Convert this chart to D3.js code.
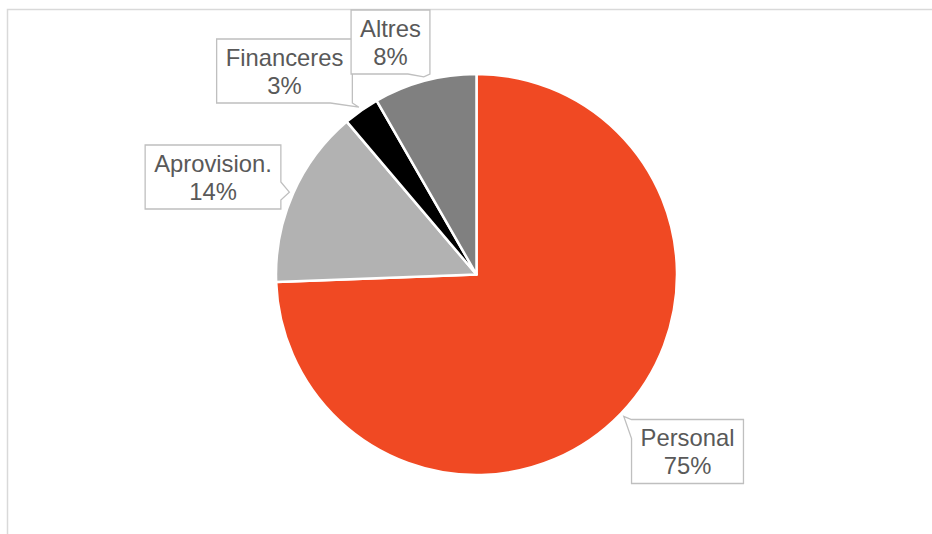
<!DOCTYPE html>
<html>
<head>
<meta charset="utf-8">
<script src="https://cdn.jsdelivr.net/npm/d3@7"></script>
<style>
    html, body { margin: 0; padding: 0; background: #fff; }
    svg { display: block; }
</style>
</head>
<body>
<div class="chart"></div>
<script>
(function () {
    'use strict';

    const categories = ['Personal', 'Aprovision.', 'Financeres', 'Altres'];
    const values = [74.4, 14.4, 2.9, 8.3];
    const percentLabels = ['75%', '14%', '3%', '8%'];

    const colors = ['#f04923', '#b2b2b2', '#000000', '#808080'];

    // callout box centre relative to the pie centre, and which box side the pointer leaves from
    const calloutPos = [
        { dx: 211, dy: 177, side: 'left' },
        { dx: -263.5, dy: -97.5, side: 'right' },
        { dx: -192, dy: -203.5, side: 'bottom' },
        { dx: -86, dy: -232.5, side: 'bottom' }
    ];

    const width = 932;
    const height = 534;
    const cx = 476.5;
    const cy = 274.5;
    const radius = 200.5;
    const fontSize = 23.8;

    const svg = d3.select('.chart').append('svg')
        .attr('width', width)
        .attr('height', height);

    // chart area frame
    svg.append('rect')
        .attr('x', 7.5).attr('y', 9.5)
        .attr('width', 1000).attr('height', 700)
        .attr('fill', 'none')
        .attr('stroke', '#d9d9d9')
        .attr('stroke-width', 1.5);

    const pie = d3.pie().sort(null).value(function (d) { return d; });
    const arcs = pie(values);
    const arc = d3.arc().innerRadius(0).outerRadius(radius);

    const pieGroup = svg.append('g').attr('transform', 'translate(' + cx + ',' + cy + ')');

    pieGroup.selectAll('path').data(arcs).enter().append('path')
        .attr('d', arc)
        .attr('fill', function (d, i) { return colors[i]; })
        .attr('stroke', '#fff')
        .attr('stroke-width', 2.5)
        .attr('stroke-linejoin', 'round');

    // measure text widths for the boxes
    const measure = svg.append('text').style('font-family', 'Liberation Sans, Arial, sans-serif')
        .style('font-size', fontSize + 'px');
    const textWidth = function (s) {
        measure.text(s);
        return measure.node().getComputedTextLength();
    };

    const callout = function (x0, y0, w, h, tip, side) {
        const x1 = x0 + w, y1 = y0 + h;
        const p = d3.path();
        p.moveTo(x0, y0);
        if (side === 'left') {
            // top-left corner straight to tip, back to the left edge lower down
            p.lineTo(x1, y0); p.lineTo(x1, y1); p.lineTo(x0, y1);
            p.lineTo(x0, y0 + 19); p.lineTo(tip[0], tip[1]); p.closePath();
        } else if (side === 'right') {
            p.lineTo(x1, y0);
            p.lineTo(x1, y0 + 37); p.lineTo(tip[0], tip[1]); p.lineTo(x1, y0 + 55);
            p.lineTo(x1, y1); p.lineTo(x0, y1); p.closePath();
        } else {
            p.lineTo(x1, y0); p.lineTo(x1, y1);
            p.lineTo(tip[0], tip[1]); p.lineTo(x1 - 22, y1);
            p.lineTo(x0, y1); p.closePath();
        }
        return p.toString();
    };

    const labelGroup = svg.append('g').attr('class', 'labels');

    arcs.forEach(function (d, i) {
        const mid = (d.startAngle + d.endAngle) / 2;
        const tipR = radius + 4;
        const tip = [cx + tipR * Math.sin(mid), cy - tipR * Math.cos(mid)];
        const w = Math.max(textWidth(categories[i]), textWidth(percentLabels[i])) + 18;
        const h = 64;
        const bx = cx + calloutPos[i].dx - w / 2;
        const by = cy + calloutPos[i].dy - h / 2;

        labelGroup.append('path')
            .attr('d', callout(bx, by, w, h, tip, calloutPos[i].side))
            .attr('fill', '#fff')
            .attr('stroke', '#bfbfbf')
            .attr('stroke-width', 1.3);

        const t = labelGroup.append('text')
            .attr('text-anchor', 'middle')
            .style('font-family', 'Liberation Sans, Arial, sans-serif')
            .style('font-size', fontSize + 'px')
            .attr('fill', '#595959');
        t.append('tspan').attr('x', bx + w / 2).attr('y', by + 26.5).text(categories[i]);
        t.append('tspan').attr('x', bx + w / 2).attr('y', by + 54.5).text(percentLabels[i]);
    });

    measure.remove();
}());
</script>
</body>
</html>
